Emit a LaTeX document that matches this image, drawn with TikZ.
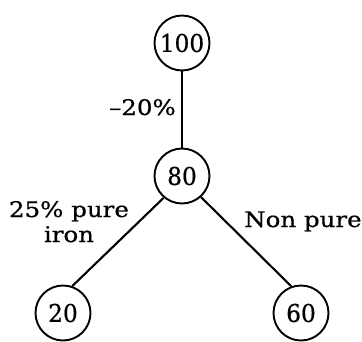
\documentclass[tikz,border=0pt]{standalone}
\usepackage{fontspec}
\setmainfont[FakeBold=0.6,FakeStretch=0.95]{DejaVu Serif}
\newfontfamily\labelfont[FakeStretch=1.14,FakeBold=0.6]{DejaVu Serif}
\begin{document}
\begin{tikzpicture}[x=1pt,y=-1pt,
  valnode/.style={draw,circle,line width=1.9pt,inner sep=0pt,minimum size=55pt,font=\fontsize{24.5}{26}\selectfont},
  lbl/.style={inner sep=0pt,font=\labelfont\fontsize{21.5}{25}\selectfont},
  link/.style={line width=2.1pt}]
\useasboundingbox (0,0) rectangle (362,341);
\node[valnode] (n100) at (182,43) {100};
\node[valnode] (n80) at (182,176) {80};
\node[valnode] (n20) at (63,313) {20};
\node[valnode] (n60) at (301,313) {60};
\draw[link] (n100) -- (n80);
\draw[link] (n80.230) -- (n20.71);
\draw[link] (n80.312) -- (n60.110);
\node[lbl,anchor=base east] (l1) at (176,115) {–20\%};
\node[lbl,align=center,anchor=base] (l2) at (69,242) {25\% pure\\iron};
\node[lbl,anchor=base west] (l3) at (244,227) {Non pure};
\end{tikzpicture}
\end{document}
